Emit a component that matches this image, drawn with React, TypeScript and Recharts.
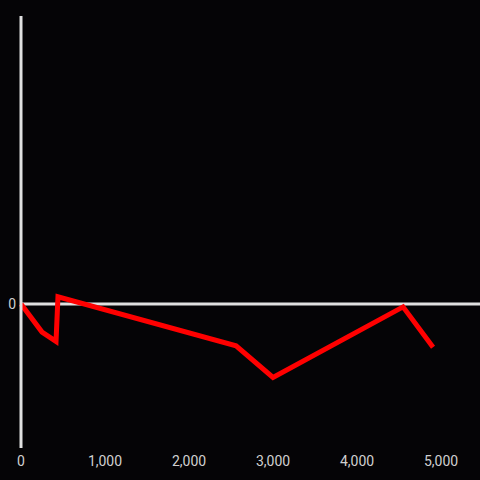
import React from 'react';
import { LineChart, Line, XAxis, YAxis, ReferenceLine } from 'recharts';

const xValues = [0, 250, 417, 440, 2560, 3000, 4548, 4905];
const yValues = [0, -19.5, -26, 5, -29, -51, -2, -30];
const xTicks = [0, 1000, 2000, 3000, 4000, 5000];
const yTicks = [0];

const data = xValues.map((x, i) => ({ x, y: yValues[i] }));

export default function App() {
  return (
    <div style={{ position: 'absolute', left: 0, top: 0, width: 480, height: 480, background: '#050406' }}>
      <LineChart width={480} height={480} data={data} margin={{ top: 16, right: 0, bottom: 0, left: 0 }}>
        <XAxis
          dataKey="x"
          type="number"
          domain={[0, 5464]}
          ticks={xTicks}
          tickFormatter={(v: number) => v.toLocaleString('en-US')}
          axisLine={false}
          tickLine={false}
          height={32}
          tick={{ fill: '#d0d0d0', fontSize: 14, fontFamily: 'Roboto' }}
        />
        <YAxis
          type="number"
          domain={[-100, 200]}
          ticks={yTicks}
          width={21}
          axisLine={{ stroke: '#e0e0e0', strokeWidth: 3 }}
          tickLine={false}
          tickSize={3}
          tick={{ fill: '#d0d0d0', fontSize: 14, fontFamily: 'Roboto' }}
        />
        <ReferenceLine y={0} stroke="#e0e0e0" strokeWidth={3} />
        <Line
          dataKey="y"
          stroke="#ff0000"
          strokeWidth={5}
          dot={false}
          isAnimationActive={false}
          strokeLinejoin="miter"
        />
      </LineChart>
    </div>
  );
}
